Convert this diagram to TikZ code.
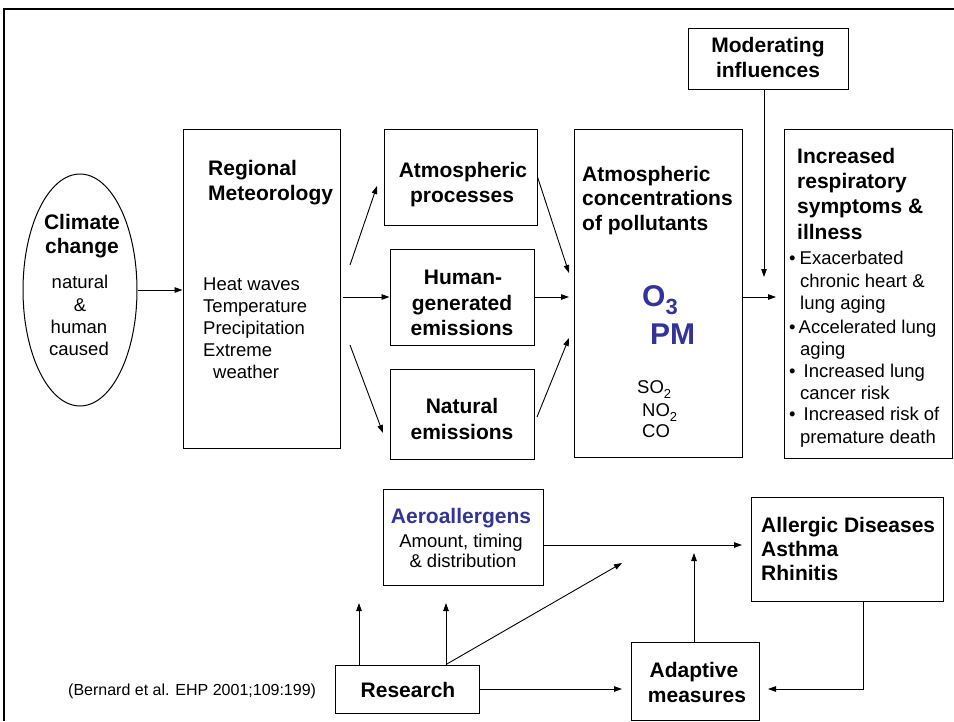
\documentclass[tikz,border=0pt]{standalone}
\usepackage{fontspec}
\setmainfont{Liberation Sans}
\usetikzlibrary{arrows.meta,shapes.geometric}
\definecolor{dblue}{RGB}{51,51,153}
\tikzset{
  bx/.style={draw=black, line width=1pt, rectangle, inner sep=0pt},
  arr/.style={line width=0.9pt, -{Triangle[length=8pt,width=5.5pt]}},
  hb/.style={inner sep=0pt, font=\fontsize{21}{25}\selectfont\bfseries},
  tx/.style={inner sep=0pt, font=\fontsize{18.5}{22}\selectfont},
  sm/.style={inner sep=0pt, font=\fontsize{16}{19}\selectfont},
  big/.style={inner sep=0pt, text=dblue, font=\fontsize{30}{34}\selectfont\bfseries},
}
\begin{document}
\begin{tikzpicture}[x=1pt,y=-1pt]
\useasboundingbox (0,0) rectangle (954,721);
% frame
\coordinate (fTL) at (4,9);
\coordinate (fTR) at (954,9);
\coordinate (fBL) at (4,721);
\draw[line width=2.5pt] (fBL) -- (fTL) -- (fTR);

% boxes
\node[bx, minimum width=160pt, minimum height=61pt] (mod) at (768,58.5) {};
\node[draw=black, line width=1pt, ellipse, inner sep=0pt, minimum width=114pt, minimum height=232pt] (clim) at (80,290) {};
\node[bx, minimum width=157pt, minimum height=319pt] (reg) at (261.5,288.5) {};
\node[bx, minimum width=153pt, minimum height=96pt] (atm) at (460.5,177) {};
\node[bx, minimum width=144pt, minimum height=96pt] (hum) at (462,297) {};
\node[bx, minimum width=144pt, minimum height=90pt] (nat) at (462,414) {};
\node[bx, minimum width=168pt, minimum height=328pt] (conc) at (658,293) {};
\node[bx, minimum width=168pt, minimum height=329pt] (inc) at (868,293.5) {};
\node[bx, minimum width=160pt, minimum height=96pt] (aero) at (463,537) {};
\node[bx, minimum width=192pt, minimum height=104pt] (allerg) at (847,549) {};
\node[bx, minimum width=144pt, minimum height=48pt] (res) at (407,689) {};
\node[bx, minimum width=128pt, minimum height=78pt] (adapt) at (695,681) {};

% texts
\node[hb, anchor=base] (modt1) at (768,52) {Moderating};
\node[hb, anchor=base] (modt2) at (768,77) {influences};

\node[hb, anchor=base] (climt1) at (82,229) {Climate};
\node[hb, anchor=base] (climt2) at (82,253) {change};
\node[tx, anchor=base] (climt3) at (80,288) {natural};
\node[tx, anchor=base] (climt4) at (80,311) {\&};
\node[tx, anchor=base] (climt5) at (79,333) {human};
\node[tx, anchor=base] (climt6) at (79,355) {caused};

\node[hb, anchor=base west] (regt1) at (208,175) {Regional};
\node[hb, anchor=base west] (regt2) at (208,200) {Meteorology};
\node[tx, anchor=base west] (regt3) at (203,290) {Heat waves};
\node[tx, anchor=base west] (regt4) at (203,312) {Temperature};
\node[tx, anchor=base west] (regt5) at (203,334) {Precipitation};
\node[tx, anchor=base west] (regt6) at (203,356) {Extreme};
\node[tx, anchor=base west] (regt7) at (213,378) {weather};

\node[hb, anchor=base] (atmt1) at (463,177) {Atmospheric};
\node[hb, anchor=base] (atmt2) at (462,202) {processes};
\node[hb, anchor=base] (humt1) at (463,284) {Human-};
\node[hb, anchor=base] (humt2) at (462,310) {generated};
\node[hb, anchor=base] (humt3) at (462,335) {emissions};
\node[hb, anchor=base] (natt1) at (462,413) {Natural};
\node[hb, anchor=base] (natt2) at (462,439) {emissions};

\node[hb, anchor=base west] (conct1) at (582,181) {Atmospheric};
\node[hb, anchor=base west] (conct2) at (582,205) {concentrations};
\node[hb, anchor=base west] (conct3) at (582,230) {of pollutants};
\node[big, anchor=base west] (o3) at (642,306) {O\raisebox{-8pt}{\fontsize{22}{22}\selectfont 3}};
\node[big, anchor=base west] (pm) at (650,344) {PM};
\node[tx, anchor=base west] (so2) at (637,393) {SO\raisebox{-5pt}{\fontsize{13}{13}\selectfont 2}};
\node[tx, anchor=base west] (no2) at (642,416) {NO\raisebox{-5pt}{\fontsize{13}{13}\selectfont 2}};
\node[tx, anchor=base west] (co) at (642,437) {CO};

\node[hb, anchor=base west] (inct1) at (797,163) {Increased};
\node[hb, anchor=base west] (inct2) at (797,188) {respiratory};
\node[hb, anchor=base west] (inct3) at (797,213) {symptoms \&};
\node[hb, anchor=base west] (inct4) at (797,239) {illness};
\node[tx, anchor=base west] (incb1) at (789,264) {•\hspace{4pt}Exacerbated};
\node[tx, anchor=base west] (incb2) at (800,287) {chronic heart \&};
\node[tx, anchor=base west] (incb3) at (800,309) {lung aging};
\node[tx, anchor=base west] (incb4) at (789,333) {•\hspace{3pt}Accelerated lung};
\node[tx, anchor=base west] (incb5) at (800,355) {aging};
\node[tx, anchor=base west] (incb6) at (789,377) {•\hspace{8pt}Increased lung};
\node[tx, anchor=base west] (incb7) at (800,399) {cancer risk};
\node[tx, anchor=base west] (incb8) at (789,420) {•\hspace{8pt}Increased risk of};
\node[tx, anchor=base west] (incb9) at (800,443) {premature death};

\node[hb, anchor=base, text=dblue] (aerot1) at (461,523) {Aeroallergens};
\node[tx, anchor=base] (aerot2) at (461,547) {Amount, timing};
\node[tx, anchor=base] (aerot3) at (463,567) {\& distribution};

\node[hb, anchor=base west] (allt1) at (761,532) {Allergic Diseases};
\node[hb, anchor=base west] (allt2) at (761,556) {Asthma};
\node[hb, anchor=base west] (allt3) at (761,580) {Rhinitis};

\node[hb, anchor=base] (rest) at (408,697) {Research};
\node[hb, anchor=base] (adt1) at (694,677) {Adaptive};
\node[hb, anchor=base] (adt2) at (697,702) {measures};

\node[sm, anchor=base west] (cite) at (68,695) {(Bernard et al. EHP 2001;109:199)};

% connector end points
\coordinate (r1a) at (350,265);
\coordinate (r1b) at (377,186);
\coordinate (r2a) at (343,297);
\coordinate (r3a) at (350,345);
\coordinate (r3b) at (383,433);
\coordinate (c1) at (569,273);
\coordinate (c2) at (569,297);
\coordinate (n1) at (537,417);
\coordinate (c3) at (569,338);
\coordinate (ci1) at (743,297);
\coordinate (ci2) at (776,297);
\coordinate (m2) at (764,277);
\coordinate (a2) at (742,545);
\coordinate (u1) at (359,603);
\coordinate (u2) at (446,603);
\coordinate (d1) at (622,563);
\coordinate (r4) at (622,689);
\coordinate (ad1) at (694,553);
\coordinate (al1) at (863,689);
\coordinate (al2) at (768,689);

% connectors
\draw[arr] (clim.east) -- (reg.west |- clim.east);
\draw[arr] (r1a) -- (r1b);
\draw[arr] (r2a) -- (hum.west);
\draw[arr] (r3a) -- (r3b);
\draw[arr] (atm.east) -- (c1);
\draw[arr] (hum.east) -- (c2);
\draw[arr] (n1) -- (c3);
\draw[arr] (ci1) -- (ci2);
\draw[arr] (mod.south -| m2) -- (m2);
\draw[arr] (aero.east |- a2) -- (a2);
\draw[arr] (res.north -| u1) -- (u1);
\draw[arr] (res.north -| u2) -- (u2);
\draw[arr] (res.north -| u2) -- (d1);
\draw[arr] (res.east) -- (r4);
\draw[arr] (adapt.north -| ad1) -- (ad1);
\draw[arr] (allerg.south -| al1) -- (al1) -- (al2);
\end{tikzpicture}
\end{document}
